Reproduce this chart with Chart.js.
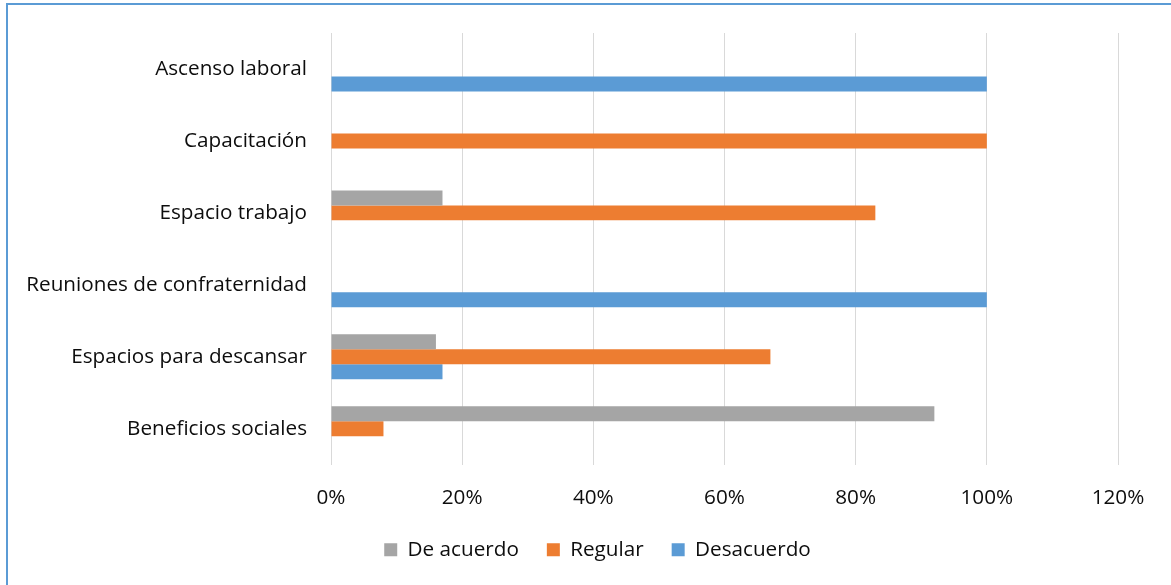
<!DOCTYPE html>
<html>
<head>
<meta charset="utf-8">
<script src="https://cdn.jsdelivr.net/npm/chart.js@4/dist/chart.umd.min.js"></script>
<style>
  html, body { margin: 0; padding: 0; background: #fff; }
  #wrap { position: relative; width: 1171px; height: 585px; overflow: hidden; }
  #frame { position: absolute; left: 6px; top: 3px; width: 1300px; height: 700px;
           border-top: 2px solid #5B9BD5; border-left: 2px solid #5B9BD5; pointer-events: none; }
  canvas { position: absolute; left: 0; top: 0; }
</style>
</head>
<body>
<div id="wrap">
  <canvas id="c" width="1171" height="585"></canvas>
  <div id="frame"></div>
</div>
<script>
const categories = ['Ascenso laboral', 'Capacitación', 'Espacio trabajo', 'Reuniones de confraternidad', 'Espacios para descansar', 'Beneficios sociales'];
const seriesNames = ['De acuerdo', 'Regular', 'Desacuerdo'];
const deAcuerdo = [0, 0, 17, 0, 16, 92];
const regular = [0, 100, 83, 0, 67, 8];
const desacuerdo = [100, 0, 0, 100, 17, 0];
const xTicks = [0, 20, 40, 60, 80, 100, 120];

const colors = ['#A5A5A5', '#ED7D31', '#5B9BD5'];
const FONT = "'Open Sans', sans-serif";
const FS = 20.7;
const TXT = '#0d0d0d';

new Chart(document.getElementById('c'), {
  type: 'bar',
  data: {
    labels: categories,
    datasets: [deAcuerdo, regular, desacuerdo].map((d, i) => ({
      label: seriesNames[i],
      data: d,
      backgroundColor: colors[i],
      borderWidth: 0,
      categoryPercentage: 0.625,
      barPercentage: 1.0
    }))
  },
  options: {
    indexAxis: 'y',
    responsive: false,
    animation: false,
    layout: { padding: { top: 33, right: -24, bottom: 15, left: 0 } },
    plugins: {
      tooltip: { enabled: false },
      legend: {
        position: 'bottom',
        labels: {
          boxWidth: 13, boxHeight: 13, padding: 28,
          color: TXT,
          font: { family: FONT, size: FS }
        }
      }
    },
    scales: {
      x: {
        min: 0, max: 120,
        afterBuildTicks: (s) => { s.ticks = xTicks.map(v => ({ value: v })); },
        afterFit: (s) => { s.height = 46.6; },
        grid: { color: '#D9D9D9', lineWidth: 1, drawTicks: false },
        border: { display: false },
        ticks: {
          padding: 21,
          color: TXT,
          font: { family: FONT, size: FS },
          callback: (v) => v + '%'
        }
      },
      y: {
        afterFit: (s) => { s.width = 331; s.paddingTop = 0; s.paddingBottom = 0; },
        grid: { display: false, drawTicks: false },
        border: { display: true, color: '#D9D9D9', width: 1 },
        ticks: {
          autoSkip: false,
          padding: 24,
          color: TXT,
          font: { family: FONT, size: FS }
        }
      },
      y2: {
        type: 'category',
        position: 'right',
        afterFit: (s) => { s.width = 77; s.paddingTop = 0; s.paddingBottom = 0; },
        grid: { display: false, drawTicks: false },
        border: { display: false },
        ticks: { display: false }
      }
    }
  }
});
</script>
</body>
</html>
